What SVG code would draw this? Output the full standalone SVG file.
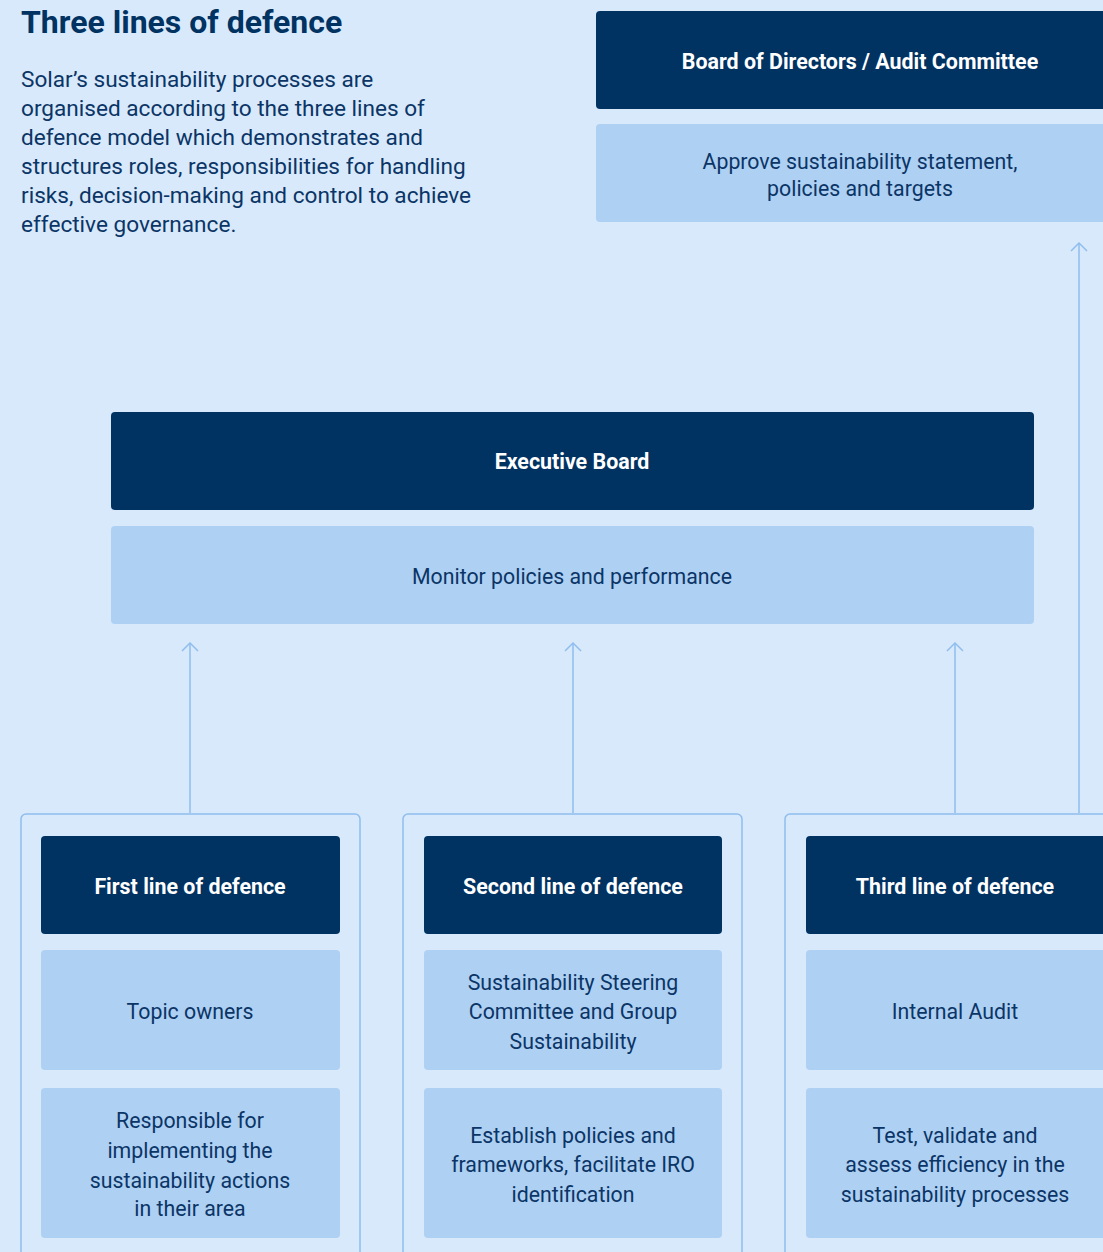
<svg xmlns="http://www.w3.org/2000/svg" width="1103" height="1252" viewBox="0 0 1103 1252">
<defs>
<style>
.dark{fill:#003262;}
.light{fill:#aed0f3;}
.cont{fill:none;stroke:#8fbdee;stroke-width:1.5;}
.hd{font-family:Roboto,"Liberation Sans",sans-serif;font-weight:700;font-size:21.4px;fill:#ffffff;text-anchor:middle;}
.bd{font-family:Roboto,"Liberation Sans",sans-serif;font-size:21.3px;fill:#0b3566;text-anchor:middle;}
.con{fill:none;stroke:#8fbdee;stroke-width:1.5;}
</style>
<marker id="ah" markerWidth="20" markerHeight="20" viewBox="-10 -10 20 20" refX="0" refY="0" orient="auto" markerUnits="userSpaceOnUse">
<path d="M-8,-8 L0,0 L-8,8" fill="none" stroke="#8fbdee" stroke-width="1.5"/>
</marker>
</defs>
<rect width="1103" height="1252" fill="#d8e9fb"/>
<g id="intro">
<text x="21" y="33" font-family="Roboto,'Liberation Sans',sans-serif" font-weight="700" font-size="32" fill="#003262">Three lines of defence</text>
<g font-family="Roboto,'Liberation Sans',sans-serif" font-size="22.6" fill="#0b3566">
<text x="21" y="87">Solar’s sustainability processes are</text>
<text x="21" y="116">organised according to the three lines of</text>
<text x="21" y="145">defence model which demonstrates and</text>
<text x="21" y="174">structures roles, responsibilities for handling</text>
<text x="21" y="203">risks, decision-making and control to achieve</text>
<text x="21" y="232">effective governance.</text>
</g>
</g>
<g id="connectors">
<line class="con" x1="190" y1="813" x2="190" y2="643" marker-end="url(#ah)"/>
<line class="con" x1="573" y1="813" x2="573" y2="643" marker-end="url(#ah)"/>
<line class="con" x1="955" y1="813" x2="955" y2="643" marker-end="url(#ah)"/>
<line class="con" x1="1079" y1="813" x2="1079" y2="243" marker-end="url(#ah)"/>
</g>
<g id="board">
<rect class="dark" x="596" y="11" width="520" height="98" rx="4"/>
<text class="hd" x="860" y="69">Board of Directors / Audit Committee</text>
</g>
<g id="board-role">
<rect class="light" x="596" y="124" width="520" height="98" rx="4"/>
<text class="bd" x="860" y="169">Approve sustainability statement,</text>
<text class="bd" x="860" y="196">policies and targets</text>
</g>
<g id="exec">
<rect class="dark" x="111" y="412" width="923" height="98" rx="4"/>
<text class="hd" x="572" y="469">Executive Board</text>
</g>
<g id="exec-role">
<rect class="light" x="111" y="526" width="923" height="98" rx="4"/>
<text class="bd" x="572" y="584">Monitor policies and performance</text>
</g>
<g id="line1">
<rect class="cont" x="21" y="814" width="339" height="460" rx="5"/>
<rect class="dark" x="41" y="836" width="299" height="98" rx="4"/>
<text class="hd" x="190" y="894">First line of defence</text>
<rect class="light" x="41" y="950" width="299" height="120" rx="4"/>
<text class="bd" x="190" y="1019">Topic owners</text>
<rect class="light" x="41" y="1088" width="299" height="150" rx="4"/>
<text class="bd" x="190" y="1128">Responsible for</text>
<text class="bd" x="190" y="1158">implementing the</text>
<text class="bd" x="190" y="1188">sustainability actions</text>
<text class="bd" x="190" y="1216">in their area</text>
</g>
<g id="line2">
<rect class="cont" x="403" y="814" width="339" height="460" rx="5"/>
<rect class="dark" x="424" y="836" width="298" height="98" rx="4"/>
<text class="hd" x="573" y="894">Second line of defence</text>
<rect class="light" x="424" y="950" width="298" height="120" rx="4"/>
<text class="bd" x="573" y="990">Sustainability Steering</text>
<text class="bd" x="573" y="1019">Committee and Group</text>
<text class="bd" x="573" y="1049">Sustainability</text>
<rect class="light" x="424" y="1088" width="298" height="150" rx="4"/>
<text class="bd" x="573" y="1143">Establish policies and</text>
<text class="bd" x="573" y="1172">frameworks, facilitate IRO</text>
<text class="bd" x="573" y="1202">identification</text>
</g>
<g id="line3">
<rect class="cont" x="785" y="814" width="339" height="460" rx="5"/>
<rect class="dark" x="806" y="836" width="310" height="98" rx="4"/>
<text class="hd" x="955" y="894">Third line of defence</text>
<rect class="light" x="806" y="950" width="310" height="120" rx="4"/>
<text class="bd" x="955" y="1019">Internal Audit</text>
<rect class="light" x="806" y="1088" width="310" height="150" rx="4"/>
<text class="bd" x="955" y="1143">Test, validate and</text>
<text class="bd" x="955" y="1172">assess efficiency in the</text>
<text class="bd" x="955" y="1202">sustainability processes</text>
</g>
</svg>
